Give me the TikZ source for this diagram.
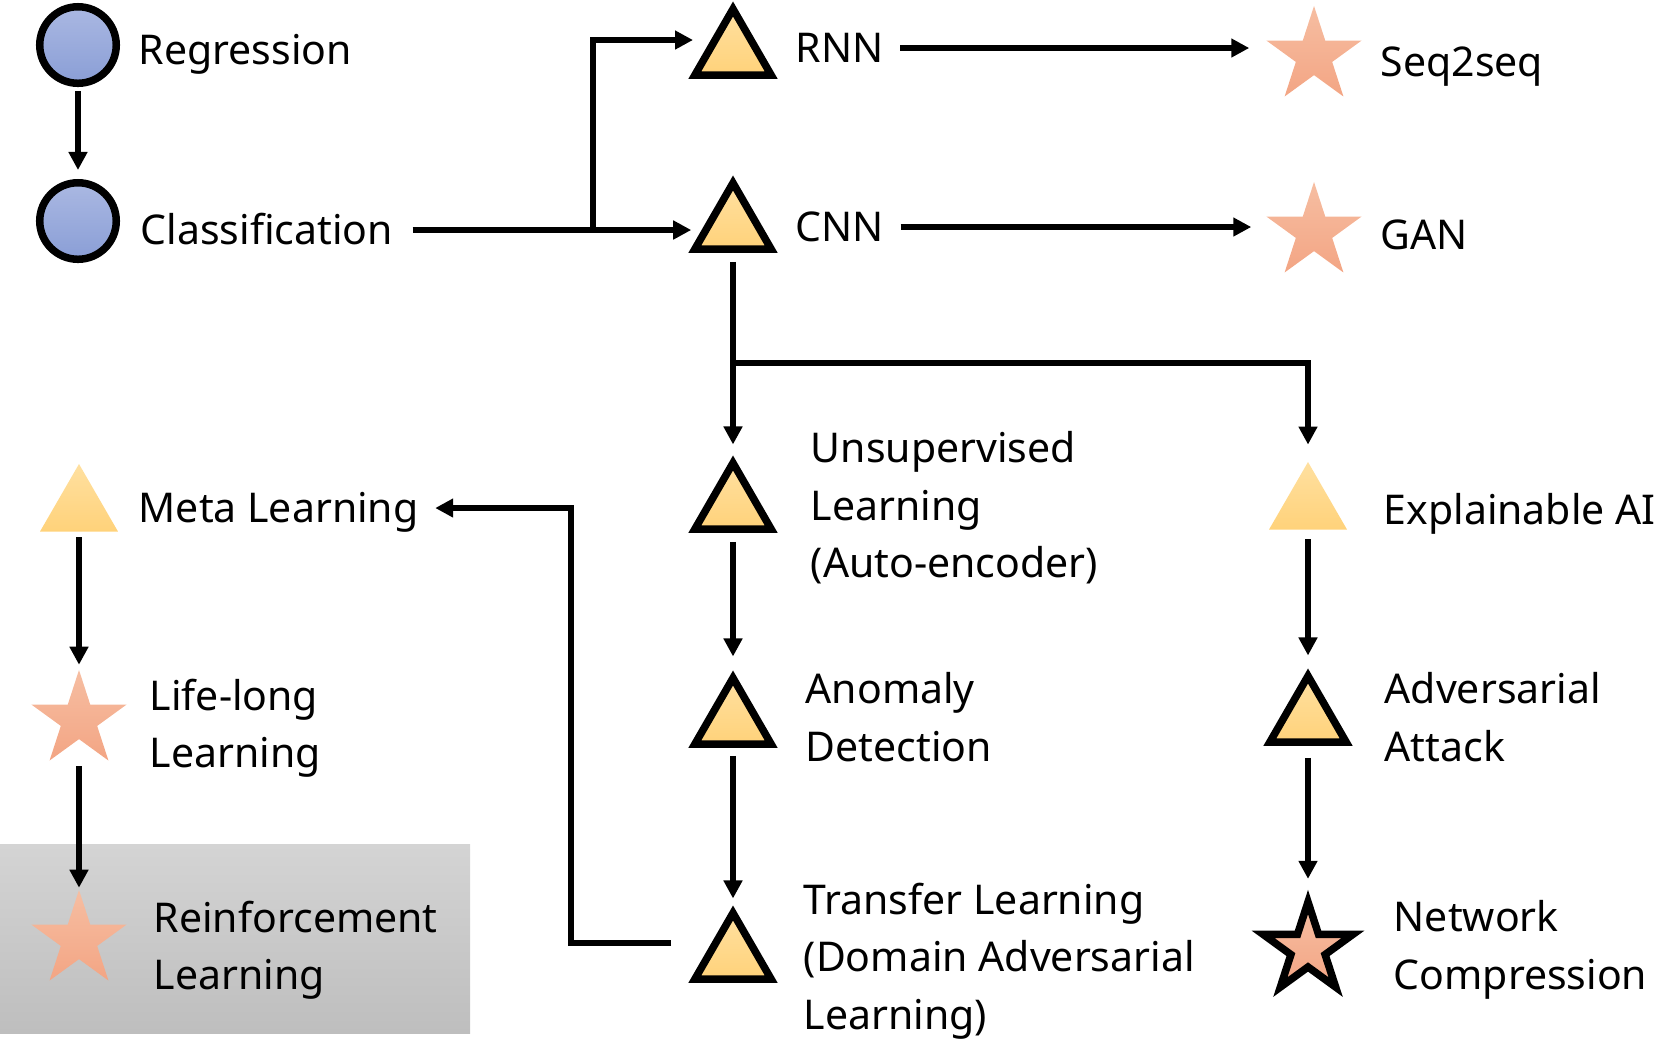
\documentclass[tikz,border=0pt]{standalone}
\usepackage{fontspec}
\setmainfont{Noto Sans}
\usepackage{tikz}
\usetikzlibrary{arrows.meta,shapes.geometric}

\definecolor{balltop}{RGB}{170,184,226}
\definecolor{ballbot}{RGB}{138,158,214}
\definecolor{tritop}{RGB}{255,224,160}
\definecolor{tribot}{RGB}{255,210,122}
\definecolor{startop}{RGB}{246,190,162}
\definecolor{starbot}{RGB}{243,165,132}
\definecolor{boxtop}{RGB}{212,212,212}
\definecolor{boxbot}{RGB}{190,190,190}

\newcommand{\lblfont}{\fontsize{11.66pt}{16.36pt}\selectfont}

\tikzset{
  conn/.style={draw, line width=0.055cm, -{Triangle[length=0.18cm,width=0.18cm]}},
  ball/.style={circle, draw, line width=0.075cm, inner sep=0pt, minimum size=0.765cm,
    top color=balltop, bottom color=ballbot},
  tri/.style={regular polygon, regular polygon sides=3, inner sep=0pt, minimum size=0.88cm,
    draw, line width=0.075cm, top color=tritop, bottom color=tribot},
  flattri/.style={regular polygon, regular polygon sides=3, inner sep=0pt, minimum size=0.9cm,
    top color=tritop, bottom color=tribot},
  starry/.style={star, star points=5, star point ratio=2.618, inner sep=0pt, minimum size=1cm,
    top color=startop, bottom color=starbot},
  boldstar/.style={starry, minimum size=0.94cm, draw, line width=0.075cm},
  lbl/.style={anchor=west, inner sep=0pt, font=\lblfont, text height=11pt, text depth=2.67pt},
  lbls/.style={anchor=west, inner sep=0pt, font=\lblfont, align=left}
}

\begin{document}
\begin{tikzpicture}[x=0.01cm, y=-0.01cm]
      \useasboundingbox (0,0) rectangle (1655,1038);

      % grey box behind reinforcement learning
      \shade[top color=boxtop, bottom color=boxbot] (0,844) rectangle (470,1033);

      % left column
      \node[ball] (reg) at (78,45) {};
      \node[ball] (cls) at (78,221) {};
      \node[lbl] (regtxt) at (138,50) {Regression};
      \node[lbl] (clstxt) at (140,230) {Classification};

      \node[flattri] (meta) at (79,509) {};
      \node[starry] (life) at (79,720) {};
      \node[starry] (rl) at (79,940) {};
      \node[lbl] (metatxt) at (138,508) {Meta Learning};
      \node[lbls] (lifetxt) at (149,728) {Life-long\\Learning};
      \node[lbls] (rltxt) at (153,950) {Reinforcement\\Learning};

      % middle column
      \node[tri] (rnn) at (733,53) {};
      \node[tri] (cnn) at (733,227) {};
      \node[tri] (unsup) at (733,507) {};
      \node[tri] (anom) at (733,722) {};
      \node[tri] (trans) at (733,957) {};
      \node[lbl] (rnntxt) at (795,48) {RNN};
      \node[lbl] (cnntxt) at (795,227) {CNN};
      \node[lbls] (unsuptxt) at (810,508) {Unsupervised\\Learning\\(Auto-encoder)};
      \node[lbls] (anomtxt) at (805,717) {Anomaly\\Detection};
      \node[lbls] (transtxt) at (803,961) {Transfer Learning\\(Domain Adversarial\\Learning)};

      % right column
      \node[starry] (seq) at (1314,56) {};
      \node[starry] (gan) at (1314,232) {};
      \node[lbl] (seqtxt) at (1380,62) {Seq2seq};
      \node[lbl] (gantxt) at (1380,235) {GAN};

      \node[flattri] (xai) at (1308,507) {};
      \node[tri] (adv) at (1308,720) {};
      \node[boldstar] (net) at (1308,949) {};
      \node[lbl] (xaitxt) at (1383,510) {Explainable AI};
      \node[lbls] (advtxt) at (1384,717) {Adversarial\\Attack};
      \node[lbls] (nettxt) at (1393,950) {Network\\Compression};

      \coordinate (split) at (593,230);
      \coordinate (rnnin) at (693,40);
      \coordinate (fork) at (733,363);
      \coordinate (bend) at (571,508);

      % connectors
      \draw[conn, shorten <=0.04cm, shorten >=0.09cm] (reg) -- (cls);
      \draw[conn, shorten >=0.12cm] ([xshift=0.19cm]clstxt.east) -- (clstxt.east -| cnn.west);
      \draw[conn] (split) |- (rnnin);
      \draw[conn, shorten >=0.15cm] ([xshift=0.16cm]rnntxt.east) -- (rnntxt.east -| seq.162);
      \draw[conn, shorten >=0.13cm] ([xshift=0.16cm]cnntxt.east) -- (cnntxt.east -| gan.162);

      \draw[conn, shorten <=0.09cm, shorten >=0.11cm] (cnn.south) -- (unsup.north);
      \draw[conn, shorten >=0.16cm] (fork) -| (xai.north);
      \draw[conn, shorten <=0.09cm, shorten >=0.14cm] (unsup.south) -- (anom.north);
      \draw[conn, shorten <=0.08cm, shorten >=0.07cm] (anom.south) -- (trans.north);
      \draw[conn] ([shift={(-0.32cm,0.14cm)}]trans.west) -| (bend) -- ([xshift=0.16cm]metatxt.east);

      \draw[conn, shorten <=0.09cm, shorten >=0.13cm] (xai.south) -- (adv.north);
      \draw[conn, shorten <=0.12cm, shorten >=0.11cm] (adv.south) -- (net.north);

      \draw[conn, shorten <=0.05cm, shorten >=0.03cm] (meta.south) -- (life.north);
      \draw[conn, shorten <=0.26cm] (life.south) -- (rl.north);
\end{tikzpicture}
\end{document}
